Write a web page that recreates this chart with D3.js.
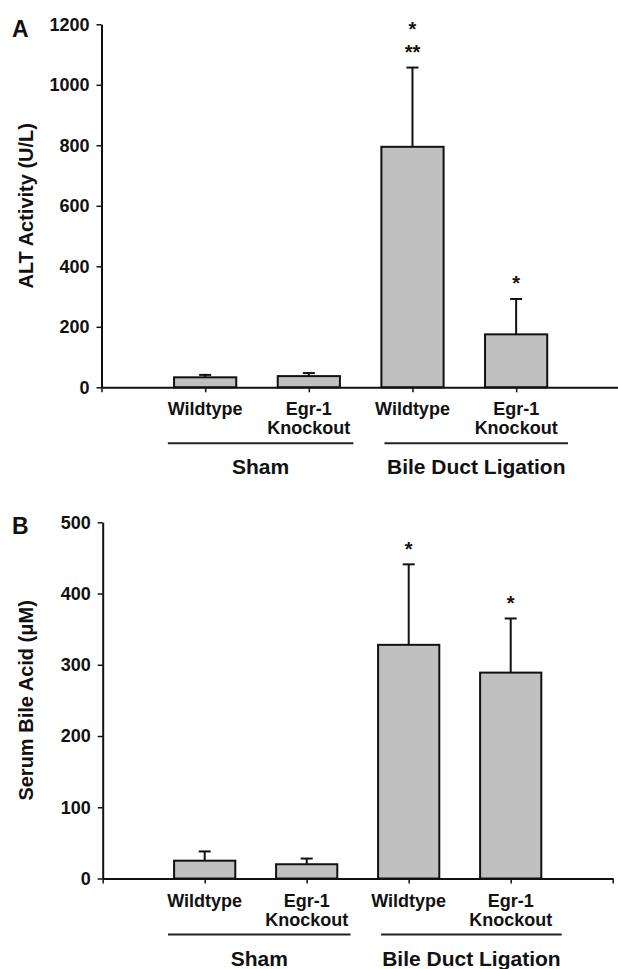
<!DOCTYPE html>
<html>
<head>
<meta charset="utf-8">
<script src="https://cdn.jsdelivr.net/npm/d3@7"></script>
<style>
  body { margin: 0; background: #fff; }
  svg { display: block; font-family: "Liberation Sans", Arial, sans-serif; font-weight: bold; }
</style>
</head>
<body>
<svg id="chart" width="618" height="969"></svg>
<script>
// categories along the x axis (one entry per bar, lines of the label)
var categories = [["Wildtype"], ["Egr-1", "Knockout"], ["Wildtype"], ["Egr-1", "Knockout"]];
// treatment groups, spanning category slots (in axis units)
var groupNames = ["Sham", "Bile Duct Ligation"];
var groupSpans = [[0.64, 2.43], [2.73, 4.5]];

// panel A : ALT activity
var altMean = [33, 37, 795, 175];
var altErr  = [8, 10, 262, 117];
var altStars = [[], [], ["*", "**"], ["*"]];
var altTicks = [0, 200, 400, 600, 800, 1000, 1200];

// panel B : serum bile acid
var bileMean = [25, 20, 328, 289];
var bileErr  = [13, 8, 113, 76];
var bileStars = [[], [], ["*"], ["*"]];
var bileTicks = [0, 100, 200, 300, 400, 500];

var svg = d3.select("#chart");

function panel(opt) {
  var g = svg.append("g");

  var x = d3.scaleLinear().domain([0, 5]).range([opt.left, opt.right]);
  var y = d3.scaleLinear().domain([0, opt.max]).range([opt.bottom, opt.top]);
  var step = x(1) - x(0);
  var bw = step * 0.6;

  // bars
  g.selectAll("rect.bar").data(opt.mean).enter().append("rect")
    .attr("class", "bar")
    .attr("x", function(d, i) { return x(i + 1) - bw / 2; })
    .attr("y", function(d) { return y(d); })
    .attr("width", bw)
    .attr("height", function(d) { return y(0) - y(d); })
    .attr("fill", "#c0c0c0")
    .attr("stroke", "#111")
    .attr("stroke-width", 2);

  // error bars (upper only)
  var eb = g.selectAll("g.err").data(opt.mean).enter().append("g").attr("class", "err");
  eb.append("line")
    .attr("x1", function(d, i) { return x(i + 1); })
    .attr("x2", function(d, i) { return x(i + 1); })
    .attr("y1", function(d) { return y(d); })
    .attr("y2", function(d, i) { return y(d + opt.err[i]); })
    .attr("stroke", "#111").attr("stroke-width", 2);
  eb.append("line")
    .attr("x1", function(d, i) { return x(i + 1) - 6; })
    .attr("x2", function(d, i) { return x(i + 1) + 6; })
    .attr("y1", function(d, i) { return y(d + opt.err[i]); })
    .attr("y2", function(d, i) { return y(d + opt.err[i]); })
    .attr("stroke", "#111").attr("stroke-width", 2);

  // significance stars, stacked above the error cap
  opt.stars.forEach(function(s, i) {
    var top = y(opt.mean[i] + opt.err[i]);
    var n = s.length;
    s.forEach(function(str, k) {
      g.append("text")
        .attr("x", x(i + 1))
        .attr("y", top - 8.8 - (n - 1 - k) * 23)
        .attr("text-anchor", "middle")
        .attr("font-size", 20)
        .attr("fill", "#111")
        .text(str);
    });
  });

  // y axis
  var ya = g.append("g")
    .attr("transform", "translate(" + opt.left + ",0)")
    .call(d3.axisLeft(y).tickValues(opt.ticks).tickFormat(d3.format("d"))
      .tickSize(5).tickSizeOuter(0).tickPadding(7));
  ya.selectAll("text").attr("font-size", 18).attr("font-family", null).attr("fill", "#111");

  // x axis
  g.append("g")
    .attr("transform", "translate(0," + opt.bottom + ")")
    .call(d3.axisBottom(x).tickValues([0, 1, 2, 3, 4, 5]).tickFormat("").tickSize(5).tickSizeOuter(0));

  g.selectAll(".domain").attr("stroke", "#111").attr("stroke-width", 2);
  g.selectAll(".tick line").attr("stroke", "#111").attr("stroke-width", 1.5);

  // category labels
  categories.forEach(function(lines, i) {
    lines.forEach(function(t, k) {
      g.append("text")
        .attr("x", x(i + 1))
        .attr("y", opt.bottom + 28 + k * 19)
        .attr("text-anchor", "middle")
        .attr("font-size", 18)
        .attr("fill", "#111")
        .text(t);
    });
  });

  // group underlines and names
  groupNames.forEach(function(name, i) {
    var s = groupSpans[i];
    g.append("line")
      .attr("x1", x(s[0])).attr("x2", x(s[1]))
      .attr("y1", opt.bottom + 56).attr("y2", opt.bottom + 56)
      .attr("stroke", "#222").attr("stroke-width", 2);
    g.append("text")
      .attr("x", (x(s[0]) + x(s[1])) / 2)
      .attr("y", opt.bottom + 87)
      .attr("text-anchor", "middle")
      .attr("font-size", 21)
      .attr("fill", "#111")
      .text(name);
  });

  // y title
  g.append("text")
    .attr("transform", "translate(33," + ((opt.top + opt.bottom) / 2) + ") rotate(-90)")
    .attr("text-anchor", "middle")
    .attr("font-size", 20)
    .attr("fill", "#111")
    .text(opt.title);

  // panel letter
  g.append("text")
    .attr("x", 12)
    .attr("y", opt.letterY)
    .attr("font-size", 23)
    .attr("fill", "#111")
    .text(opt.letter);
}

panel({
  mean: altMean, err: altErr, stars: altStars, ticks: altTicks, max: 1200,
  left: 101.5, right: 619.8, top: 24.3, bottom: 387.3,
  title: "ALT Activity (U/L)", letter: "A", letterY: 37
});

panel({
  mean: bileMean, err: bileErr, stars: bileStars, ticks: bileTicks, max: 500,
  left: 102.7, right: 612.7, top: 522.3, bottom: 878.5,
  title: "Serum Bile Acid (\u03bcM)", letter: "B", letterY: 534
});
</script>
</body>
</html>
